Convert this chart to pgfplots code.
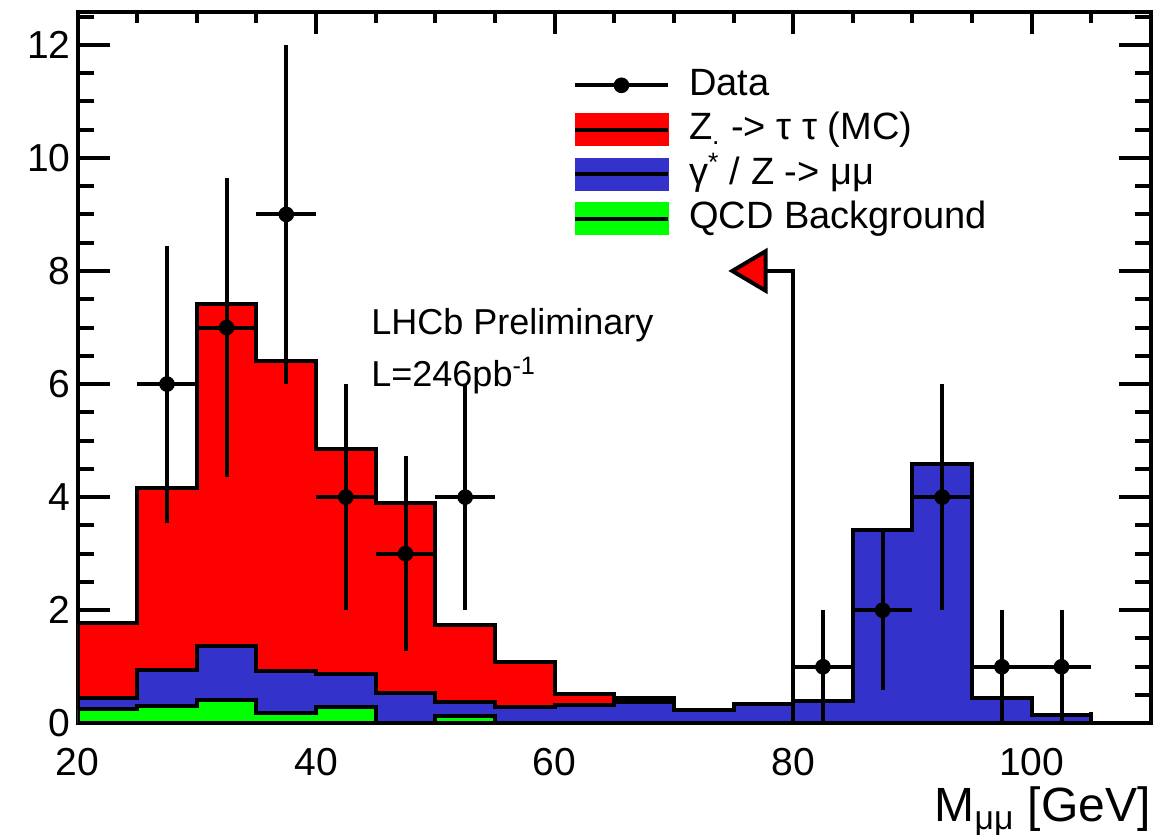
\documentclass[border=0pt]{standalone}
\usepackage{pgfplots}
\pgfplotsset{compat=1.18}
\usepackage{pgfplotstable}
\usepackage{fontspec}
\setmainfont{Liberation Sans}
\definecolor{hred}{RGB}{255,0,0}
\definecolor{hblue}{RGB}{51,51,204}
\definecolor{hgreen}{RGB}{0,255,0}

% data points with sqrt(N) errors
\pgfplotstableread{
x y ex eyp eym
27.5 6 2.5 2.45 2.45
32.5 7 2.5 2.65 2.65
37.5 9 2.5 3.0 3.0
42.5 4 2.5 2.0 2.0
47.5 3 2.5 1.73 1.73
52.5 4 2.5 2.0 2.0
82.5 1 2.5 1.0 1.0
87.5 2 2.5 1.41 1.41
92.5 4 2.5 2.0 2.0
97.5 1 2.5 1.0 1.0
102.5 1 2.5 1.0 1.0
}\datatab

% stacked histogram tops (bin left edges, last edge repeated)
\pgfplotstableread{
x tot bg qcd
20 1.77 0.44 0.25
25 4.17 0.94 0.31
30 7.42 1.37 0.42
35 6.41 0.92 0.18
40 4.86 0.88 0.29
45 3.89 0.54 0.0
50 1.73 0.38 0.13
55 1.09 0.29 0.0
60 0.52 0.32 0.0
65 0.44 0.38 0.0
70 0.23 0.23 0.0
75 0.35 0.35 0.0
80 0.39 0.39 0.0
85 3.42 3.42 0.0
90 4.58 4.58 0.0
95 0.45 0.45 0.0
100 0.14 0.14 0.0
105 0.01 0.01 0.0
110 0.01 0.01 0.0
}\histtab

\pgfplotsset{common/.style={
  scale only axis, width=536.5pt, height=355.5pt,
  xmin=20, xmax=110, ymin=0, ymax=12.58,
  axis line style={line width=2pt, black},
  tick style={line width=2pt, black},
  tick align=inside,
  /pgf/number format/assume math mode=true,
  tick label style={font=\fontsize{19.5}{23}\selectfont},
}}

\begin{document}
\begin{tikzpicture}
\useasboundingbox (-38.75pt,-55.5pt) rectangle (542pt,361.5pt);
% axis carrying the y ticks
\begin{axis}[common,
  xtick=\empty,
  ytick={0,2,...,12},
  minor ytick={0.5,1,1.5,2.5,3,3.5,4.5,5,5.5,6.5,7,7.5,8.5,9,9.5,10.5,11,11.5,12.5},
  major tick length=16pt, minor tick length=8pt]
\end{axis}
% main axis
\begin{axis}[common,
  ytick=\empty,
  xtick={20,40,60,80,100},
  minor xtick={25,30,35,45,50,55,65,70,75,85,90,95,105},
  major tick length=11pt, minor tick length=5.5pt,
  xticklabel style={yshift=-9pt},
  xlabel={M\textsubscript{μμ} [GeV]},
  xlabel style={at={(axis description cs:1,0)}, anchor=base east, yshift=-49.3pt, inner sep=0pt, font=\fontsize{24}{28}\selectfont},
  legend cell align=left,
  legend style={draw=none, fill=none, at={(axis cs:61.0,11.68)}, anchor=north west,
    font=\fontsize{19}{22}\selectfont, row sep=4.2pt,
    nodes={inner sep=0pt, text height=14pt, text depth=4pt},
    /tikz/every odd column/.append style={column sep=9.5pt}},
]
\addlegendimage{legend image code/.code={\draw[black,line width=2pt] (0pt,0pt)--(46.5pt,0pt); \fill[black] (23.25pt,0pt) circle (3.7pt);}}
\addlegendentry{Data}
\addlegendimage{legend image code/.code={\fill[hred] (0pt,-8pt) rectangle (46.5pt,8pt); \draw[black,line width=2pt] (0pt,0pt)--(46.5pt,0pt);}}
\addlegendentry{Z\textsubscript{.} -> τ τ (MC)}
\addlegendimage{legend image code/.code={\fill[hblue] (0pt,-8pt) rectangle (46.5pt,8pt); \draw[black,line width=2pt] (0pt,0pt)--(46.5pt,0pt);}}
\addlegendentry{γ\textsuperscript{*} / Z -> μμ}
\addlegendimage{legend image code/.code={\fill[hgreen] (0pt,-8pt) rectangle (46.5pt,8pt); \draw[black,line width=2pt] (0pt,0pt)--(46.5pt,0pt);}}
\addlegendentry{QCD Background}

\addplot[const plot, fill=hred, draw=black, line width=2pt, forget plot] table[x=x, y=tot] {\histtab} \closedcycle;
\addplot[const plot, fill=hblue, draw=black, line width=2pt, forget plot] table[x=x, y=bg] {\histtab} \closedcycle;
\addplot[const plot, fill=hgreen, draw=black, line width=2pt, forget plot] table[x=x, y=qcd] {\histtab} \closedcycle;

% cut arrow
\addplot[black, line width=2pt, forget plot] coordinates {(80,0) (80,8) (77.7,8)};
\addplot[fill=hred, draw=black, line width=2pt, forget plot] coordinates {(74.9,8) (77.7,8.35) (77.7,7.65)} -- cycle;

% data
\addplot[black, only marks, mark=*, mark size=3.7pt, forget plot,
  error bars/.cd, x dir=both, x explicit, y dir=both, y explicit,
  error bar style={line width=2pt, black}, error mark=none]
  table[x=x, y=y, x error=ex, y error plus=eyp, y error minus=eym] {\datatab};

\node[anchor=base west, font=\fontsize{18}{21}\selectfont, inner sep=0pt] at (axis cs:44.6,6.87) {LHCb Preliminary};
\node[anchor=base west, font=\fontsize{18}{21}\selectfont, inner sep=0pt] at (axis cs:44.6,5.95) {L=246pb\textsuperscript{-1}};
\end{axis}
\end{tikzpicture}
\end{document}
